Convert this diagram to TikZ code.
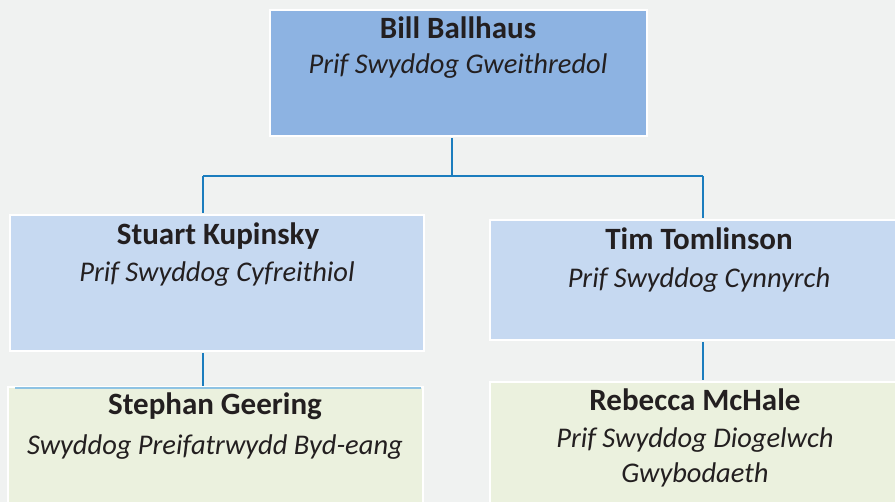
\documentclass[tikz,border=0pt]{standalone}
\usepackage{fontspec}
\setmainfont{Carlito}
\definecolor{bg}{HTML}{F0F2F1}
\definecolor{topfill}{HTML}{8DB3E2}
\definecolor{midfill}{HTML}{C6D9F1}
\definecolor{lowfill}{HTML}{EBF1DE}
\definecolor{connc}{HTML}{1B7DBE}
\definecolor{lightln}{HTML}{8EC3E3}
\definecolor{txt}{HTML}{231F20}
\tikzset{
  box/.style={rectangle, draw=white, line width=2pt, inner sep=0pt},
  conn/.style={draw=connc, line width=2.8pt},
  nm/.style={anchor=base, text=txt, font=\bfseries\fontsize{31}{31}\selectfont, inner sep=0pt},
  ttl/.style={anchor=base, text=txt, font=\itshape\fontsize{28.5}{28.5}\selectfont, inner sep=0pt}
}
\begin{document}
\begin{tikzpicture}[x=1pt,y=-1pt]
\fill[bg] (0,0) rectangle (895,502);
\useasboundingbox (0,0) rectangle (895,502);
% boxes
\node[box, fill=topfill, minimum width=377pt, minimum height=126pt] (ceo) at (458.5,73) {};
\node[box, fill=midfill, minimum width=414pt, minimum height=136pt] (legal) at (217,283) {};
\node[box, fill=midfill, minimum width=410pt, minimum height=120pt] (prod) at (695,280) {};
\node[box, fill=lowfill, minimum width=415pt, minimum height=123pt] (priv) at (215.5,448.5) {};
\node[box, fill=lowfill, minimum width=410pt, minimum height=128pt] (sec) at (695,446) {};
% connectors
\coordinate (busM) at (452,176);
\coordinate (busL) at (203,176);
\coordinate (busR) at (703,176);
\draw[conn, shorten <=1pt] (ceo.south -| busM) -- (busM);
\draw[conn] (busL) -- (busR);
\draw[conn, shorten >=1pt] (busL) -- (busL |- legal.north);
\draw[conn, shorten >=1pt] (busR) -- (busR |- prod.north);
\draw[conn, shorten <=1pt] (busL |- legal.south) -- (busL |- priv.north);
\draw[conn, shorten <=1pt, shorten >=1pt] (busR |- prod.south) -- (busR |- sec.north);
\draw[lightln, line width=1.5pt] ([xshift=8pt,yshift=-2pt]priv.north west) -- ([xshift=-3pt,yshift=-2pt]priv.north east);
% texts
\node[nm] (t1) at (458,39) {Bill Ballhaus};
\node[ttl] (s1) at (458,74) {Prif Swyddog Gweithredol};
\node[nm] (t2) at (218,245) {Stuart Kupinsky};
\node[ttl] (s2) at (217,282) {Prif Swyddog Cyfreithiol};
\node[nm] (t3) at (699,250) {Tim Tomlinson};
\node[ttl] (s3) at (699,288) {Prif Swyddog Cynnyrch};
\node[nm] (t4) at (215,415) {Stephan Geering};
\node[ttl] (s4) at (215,455) {Swyddog Preifatrwydd Byd-eang};
\node[nm] (t5) at (695,411) {Rebecca McHale};
\node[ttl] (s5) at (695,448) {Prif Swyddog Diogelwch};
\node[ttl] (s6) at (695,483) {Gwybodaeth};
\end{tikzpicture}
\end{document}
